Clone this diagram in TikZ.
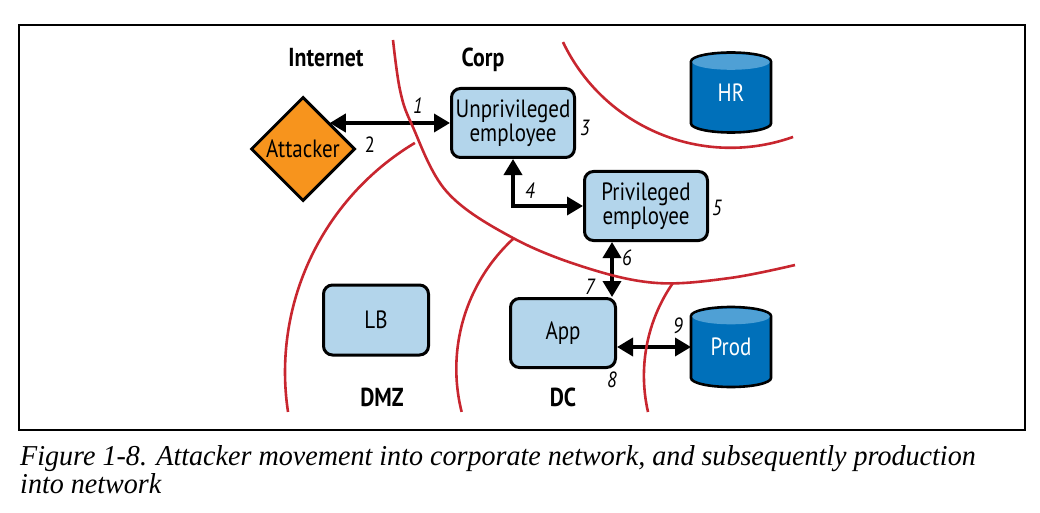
\documentclass[tikz,border=0pt]{standalone}
\usepackage{fontspec}
\setmainfont{PT Sans}
\newfontfamily\diagfont{PT Sans}[FakeStretch=0.84]
\newfontfamily\capfont{Liberation Serif}[FakeStretch=0.975]
\usetikzlibrary{arrows.meta,shapes.geometric,calc}
\definecolor{zonered}{HTML}{C8262F}
\definecolor{boxblue}{HTML}{B3D5EB}
\definecolor{attackorange}{HTML}{F7941D}
\definecolor{dbdark}{HTML}{0070BA}
\definecolor{dblight}{HTML}{4FA0D5}
\pgfdeclarelayer{bg}
\pgfsetlayers{bg,main}
\newcommand\dbshape[1]{%
  \begin{pgfonlayer}{bg}
  \filldraw[fill=dbdark, draw=black, line width=2.6pt]
    ($(#1.north west)+(0,9)$) -- ($(#1.south west)+(0,-9)$)
    arc[start angle=180, end angle=360, x radius=40pt, y radius=9pt]
    -- ($(#1.north east)+(0,9)$)
    arc[start angle=0, end angle=180, x radius=40pt, y radius=9pt] -- cycle;
  \fill[dblight] ($(#1.north)+(0,9.5)$) ellipse[x radius=38.7pt, y radius=7.8pt];
  \end{pgfonlayer}}
\begin{document}
\begin{tikzpicture}[x=1pt, y=-1pt,
  zone/.style={draw=zonered, line width=2.6pt},
  box/.style={draw, line width=3pt, rounded corners=9pt, fill=boxblue, align=center,
    inner sep=0pt, font=\diagfont\fontsize{25}{24}\selectfont},
  link/.style={line width=3.6pt, {Triangle[length=16pt,width=18pt]}-{Triangle[length=16pt,width=18pt]}},
  num/.style={font=\diagfont\fontsize{22}{22}\selectfont\itshape, inner sep=0pt},
  uprnum/.style={font=\diagfont\fontsize{22}{22}\selectfont, inner sep=0pt},
  zonelabel/.style={font=\diagfont\fontsize{26}{26}\selectfont\bfseries, inner sep=0pt, anchor=base},
  db/.style={minimum width=80pt, minimum height=80pt, inner sep=0pt, outer sep=0pt,
    text=white, font=\diagfont\fontsize{25}{24}\selectfont},
  threat/.style={diamond, aspect=1, draw, line width=3pt, fill=attackorange, inner sep=0pt,
    minimum width=104pt, minimum height=104pt, font=\diagfont\fontsize{25}{24}\selectfont},
  caption/.style={font=\capfont\itshape\fontsize{28.8}{26}\selectfont, align=left, inner sep=0pt, anchor=base west}
]
\useasboundingbox (0,0) rectangle (1040,513);
\draw[line width=1.5pt] (19,25) rectangle (1025,430);

% nodes
\node[threat] (attacker) at (303,149) {Attacker};
\node[box, minimum width=123pt, minimum height=69pt] (unpriv) at (513,123) {Unprivileged\\employee};
\node[box, minimum width=123pt, minimum height=69pt] (priv) at (646,206) {Privileged\\employee};
\node[box, minimum width=105pt, minimum height=69pt] (app) at (563,333) {App};
\node[box, minimum width=105pt, minimum height=70pt] (lb) at (376,320) {LB};
\node[db] (hr) at (731,92.5) {HR};
\dbshape{hr}
\node[db] (prod) at (731,347) {Prod};
\dbshape{prod}

% zone labels
\node[zonelabel] (linternet) at (326,67) {Internet};
\node[zonelabel] (lcorp) at (483,67) {Corp};
\node[zonelabel] (ldmz) at (382,406) {DMZ};
\node[zonelabel] (ldc) at (563,406) {DC};

% links
\draw[link] (attacker.north east |- unpriv.west) -- (unpriv.west);
\draw[link] (unpriv.south) |- (priv.west);
\coordinate (c6) at ($(priv.south west)+(29,0)$);
\draw[link] (c6) -- (c6 |- app.north);
\draw[link] (app.east |- prod.west) -- (prod.west);

% step numbers
\node[num] (n1) at (418,106) {1};
\node[uprnum] (n2) at (370,145) {2};
\node[num] (n3) at (585,128) {3};
\node[num] (n4) at (530,191) {4};
\node[num] (n5) at (717,208) {5};
\node[num] (n6) at (627,258) {6};
\node[num] (n7) at (590,287) {7};
\node[num] (n8) at (612,380) {8};
\node[num] (n9) at (678,326) {9};

% zone boundaries
\draw[zone] plot[smooth, tension=0.6] coordinates {(393,40) (400,90) (412,125) (447,192) (513,238) (587,268) (657,283) (730,278) (795,265)};
\draw[zone] plot[domain=70.3:154.5, samples=60, smooth] ({730.5+185.6*cos(\x)},{-37.8+185.6*sin(\x)});
\draw[zone] plot[domain=171.4:239.1, samples=60, smooth] ({552+267*cos(\x)},{372+267*sin(\x)});
\draw[zone] plot[domain=165.9:227.3, samples=50, smooth] ({633.3+177*cos(\x)},{368.8+177*sin(\x)});
\draw[zone] plot[domain=167.1:214.8, samples=40, smooth] ({806.5+162.6*cos(\x)},{375.7+162.6*sin(\x)});

% caption
\node[caption] (cap) at (20,493) {Figure 1-8. Attacker movement into corporate network, and subsequently production\\into network};
\end{tikzpicture}
\end{document}
